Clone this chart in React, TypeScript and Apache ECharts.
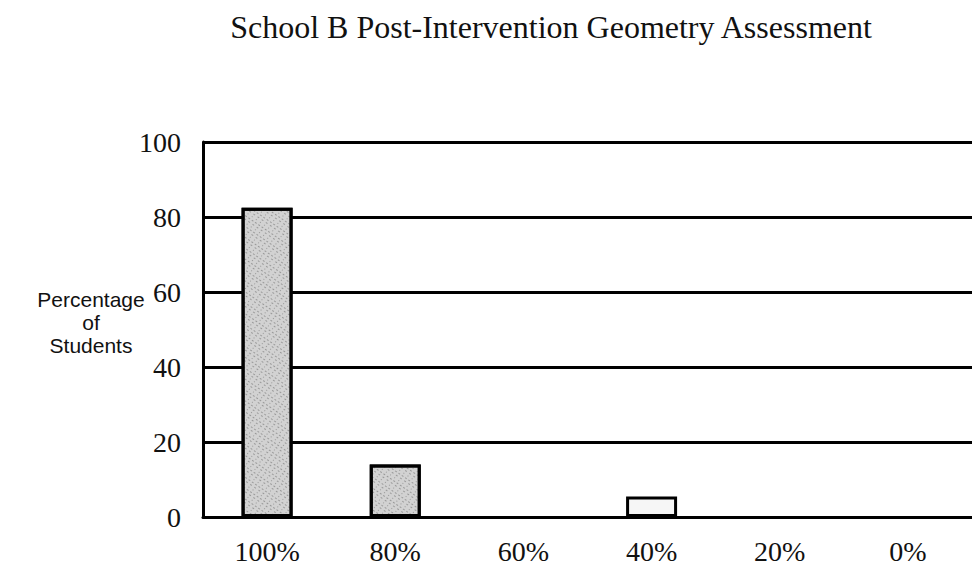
import React, { useEffect, useRef } from "react";
import * as echarts from "echarts";

const categories = ["100%", "80%", "60%", "40%", "20%", "0%"];
const percentages = [82.5, 14, 0, 5.5, 0, 0];
const yTicks = { min: 0, max: 100, interval: 20 };
const titleText = "School B Post-Intervention Geometry Assessment";
const yAxisTitle = "Percentage\nof\nStudents";

const barFills = ["#d2d2d2", "#d2d2d2", "#ffffff", "#f6f6f6", "#ffffff", "#ffffff"];

export default function App() {
  const ref = useRef<HTMLDivElement>(null);
  useEffect(() => {
    if (!ref.current) return;
    const chart = echarts.init(ref.current, null, { renderer: "svg" });
    const decal = {
      symbol: "rect",
      symbolSize: 0.6,
      color: "#111111",
      dashArrayX: [[2, 3], [1, 4], [2, 2]],
      dashArrayY: [1, 2],
      rotation: 0.6,
    };
    chart.setOption({
      animation: false,
      backgroundColor: "#ffffff",
      title: {
        text: titleText,
        left: 546,
        top: 6,
        textAlign: "center",
        textStyle: {
          fontFamily: "Liberation Serif, Times New Roman, serif",
          fontSize: 32,
          fontWeight: "normal",
          color: "#111",
        },
      },
      graphic: [
        {
          type: "text",
          x: 91,
          y: 288,
          style: {
            text: yAxisTitle,
            fontFamily: "Liberation Sans, Arial, sans-serif",
            fontSize: 21,
            lineHeight: 23,
            align: "center",
            fill: "#111",
          },
        },
      ],
      grid: { left: 203, top: 142, right: -8, bottom: 48 },
      xAxis: {
        type: "category",
        data: categories,
        axisLine: { show: true, lineStyle: { color: "#000", width: 3 } },
        axisTick: { show: false },
        axisLabel: {
          margin: 20,
          fontFamily: "Liberation Serif, Times New Roman, serif",
          fontSize: 28,
          color: "#111",
        },
      },
      yAxis: {
        type: "value",
        min: yTicks.min,
        max: yTicks.max,
        interval: yTicks.interval,
        axisLine: { show: true, lineStyle: { color: "#000", width: 3 } },
        axisTick: { show: false },
        splitLine: { show: true, lineStyle: { color: "#000", width: 3 } },
        axisLabel: {
          margin: 22,
          fontFamily: "Liberation Serif, Times New Roman, serif",
          fontSize: 28,
          color: "#111",
        },
      },
      series: [
        {
          type: "bar",
          barWidth: 51,
          data: percentages.map((v, i) => ({
            value: v,
            itemStyle:
              v === 0
                ? { borderWidth: 0, color: "transparent", decal: null }
                : { color: barFills[i], decal: i === 3 ? null : decal },
          })),
          itemStyle: {
            borderColor: "#000",
            borderWidth: 3,
          },
        },
      ],
    });
    return () => chart.dispose();
  }, []);
  return <div ref={ref} style={{ width: 972, height: 565, position: "absolute", left: 0, top: 0 }} />;
}
